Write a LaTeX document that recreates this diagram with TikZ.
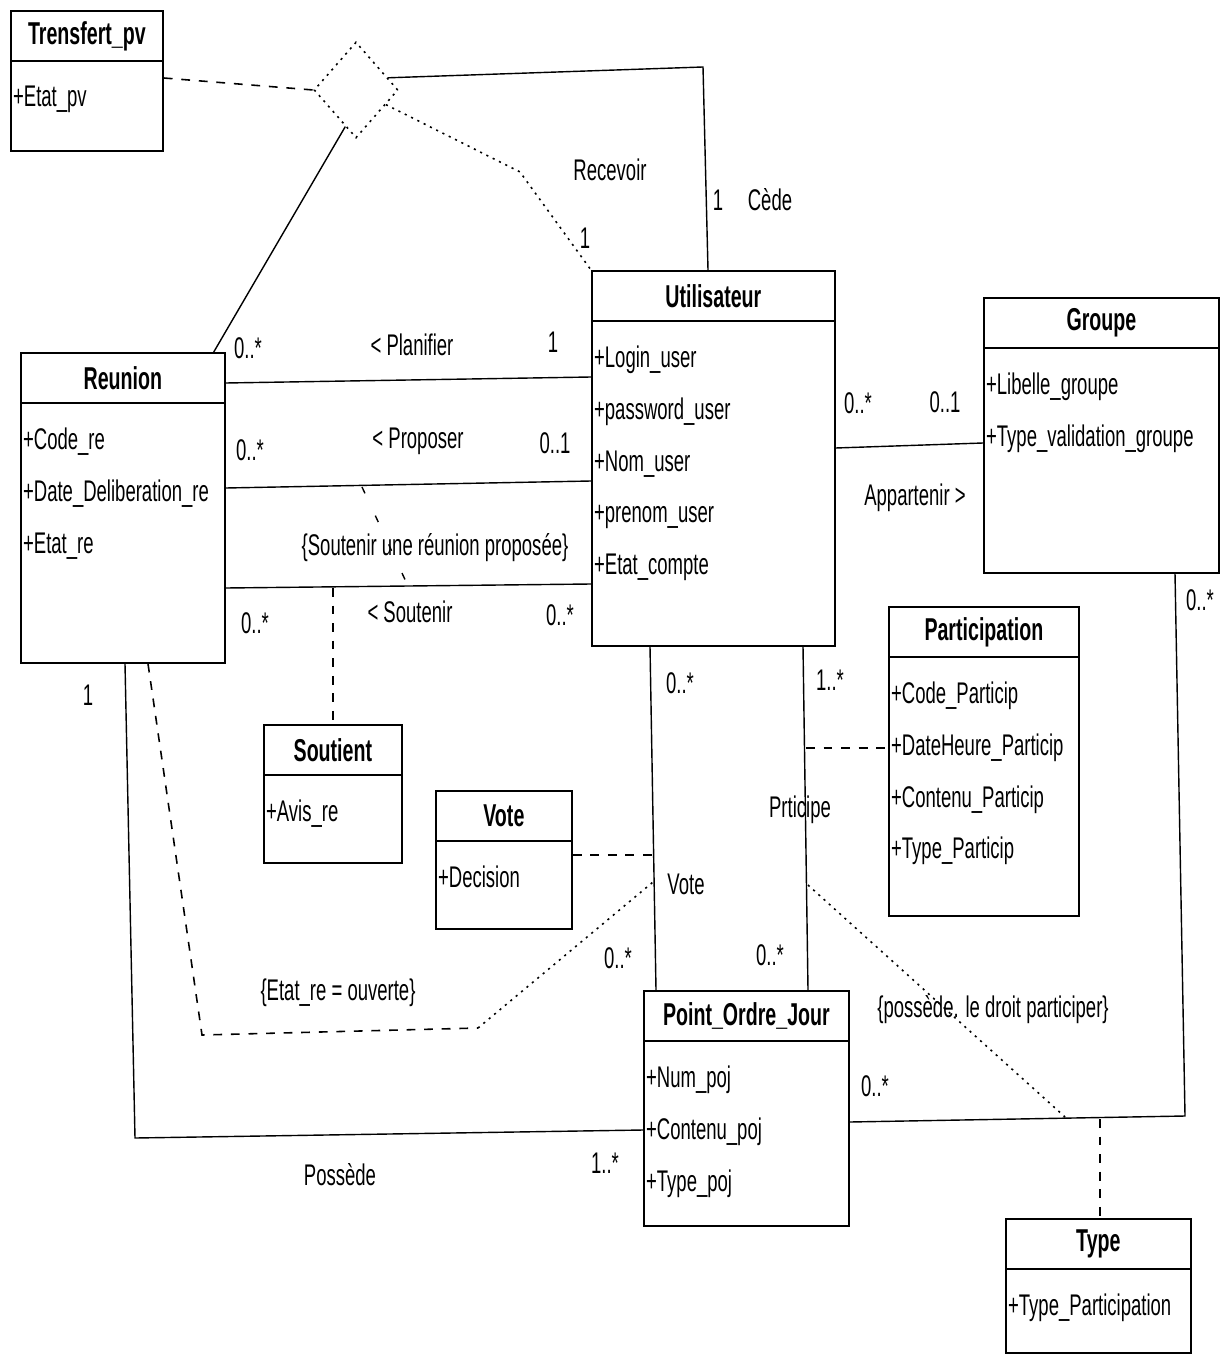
\documentclass[tikz,border=0pt]{standalone}
\usepackage{fontspec}
\setmainfont{Liberation Sans}[FakeStretch=0.62]
\usetikzlibrary{calc}
\usetikzlibrary{shapes.geometric}

\tikzset{
  classbody/.style={draw, line width=1pt, rectangle, anchor=north west, inner sep=0pt},
  classtitle/.style={font=\fontsize{18}{20}\selectfont\bfseries, inner sep=0pt},
  classattr/.style={font=\fontsize{17}{29.4}\selectfont, align=left, anchor=north west, inner sep=1pt},
  lbl/.style={font=\fontsize{17}{20}\selectfont, inner sep=0pt},
  assoc/.style={line width=0.8pt},
  depline/.style={line width=0.9pt, dash pattern=on 5pt off 5pt},
  dotline/.style={line width=0.9pt, dash pattern=on 1.2pt off 2.8pt},
}

% class box: name, x, y, width, height, title, attributes (pixel units)
\newcommand{\umlclass}[7]{%
  \node[classbody, minimum width={#4*0.02cm}, minimum height={#5*0.02cm}] (#1) at (#2,#3) {};
  \node[classtitle] (#1-title) at ($(#1.north)+(0,26)$) {#6};
  \draw[line width=1pt] ($(#1.north west)+(0,51)$) -- ($(#1.north east)+(0,51)$);
  \node[classattr] (#1-attr) at ($(#1.north west)+(1,74)$) {#7};
}

\begin{document}
\begin{tikzpicture}[x=0.02cm, y=-0.02cm]
\useasboundingbox (0,0) rectangle (1221,1354);

%Classes:
\umlclass{transfert}{10}{10}{152}{140}{Trensfert\_pv}{+Etat\_pv}
\umlclass{reunion}{20}{352}{204}{310}{Reunion}{+Code\_re\\+Date\_Deliberation\_re\\+Etat\_re}
\umlclass{util}{591}{270}{243}{375}{Utilisateur}{+Login\_user\\+password\_user\\+Nom\_user\\+prenom\_user\\+Etat\_compte}
\umlclass{groupe}{983}{297}{235}{275}{Groupe}{+Libelle\_groupe\\+Type\_validation\_groupe}
\umlclass{soutient}{263}{724}{138}{138}{Soutient}{+Avis\_re}
\umlclass{vote}{435}{790}{136}{138}{Vote}{+Decision}
\umlclass{particip}{888}{606}{190}{309}{Participation}{+Code\_Particip\\+DateHeure\_Particip\\+Contenu\_Particip\\+Type\_Particip}
\umlclass{poj}{643}{990}{205}{235}{Point\_Ordre\_Jour}{+Num\_poj\\+Contenu\_poj\\+Type\_poj}
\umlclass{type}{1005}{1218}{185}{134}{Type}{+Type\_Participation}

%Ternary association:
\node[draw, dotline, diamond, minimum width=1.68cm, minimum height=1.92cm, inner sep=0pt] (ternary) at (356,90) {};
\draw[depline] (transfert.east |- 0,78) -- (ternary.west);
\draw[assoc] ($(ternary.north)!0.75!(ternary.east)$) -- (703,67) -- (util.north -| 708,0);
\draw[dotline] ($(ternary.east)!0.3!(ternary.south)$) -- (520,172) -- (util.north west);
\draw[assoc] ($(ternary.south)!0.25!(ternary.west)$) -- ($(reunion.north east)+(-12,0)$);
\node[lbl] (recevoir) at (610,170) {Recevoir};
\node[lbl] (m-recevoir) at (585,238) {1};
\node[lbl] (m-cede) at (718,200) {1};
\node[lbl] (cede) at (770,200) {Cède};

%Reunion -- Utilisateur:
\draw[assoc] (reunion.east |- 0,383) -- (util.west |- 0,377);
\draw[assoc] (reunion.east |- 0,488) -- (util.west |- 0,481);
\draw[assoc] (reunion.east |- 0,588) -- (util.west |- 0,584);
\node[lbl] (m-plan-r) at (248,348) {0..*};
\node[lbl] (planifier) at (412,345) {< Planifier};
\node[lbl] (m-plan-u) at (553,342) {1};
\node[lbl] (m-prop-r) at (250,450) {0..*};
\node[lbl] (proposer) at (418,441) {< Proposer};
\node[lbl] (m-prop-u) at (555,443) {0..1};
\node[lbl] (m-sout-r) at (255,623) {0..*};
\node[lbl] (soutenir) at (410,612) {< Soutenir};
\node[lbl] (m-sout-u) at (560,615) {0..*};
\node[lbl] (c-soutenir) at (435,548) {\{Soutenir une réunion proposée\}};
\draw[line width=0.8pt, dash pattern=on 4pt off 14pt] (362,487) -- (408,586);
\draw[depline] (soutient.north |- 0,588) -- (soutient.north);

%Vote and Participe:
\coordinate (votemid) at (653,855);
\coordinate (partmid) at (806,748);
\draw[assoc] (util.south -| 650,0) -- (poj.north -| 656,0);
\draw[assoc] (util.south -| 803,0) -- (poj.north -| 808,0);
\draw[depline] (vote.east |- votemid) -- (votemid);
\draw[depline] (partmid) -- (particip.west |- partmid);
\node[lbl] (m-vote-u) at (680,683) {0..*};
\node[lbl] (vote-lbl) at (686,884) {Vote};
\node[lbl] (m-vote-p) at (618,958) {0..*};
\node[lbl] (m-part-u) at (830,680) {1..*};
\node[lbl] (part-lbl) at (800,810) {Prticipe};
\node[lbl] (m-part-p) at (770,955) {0..*};

%Groupe:
\draw[assoc] (util.east |- 0,448) -- (groupe.west |- 0,443);
\node[lbl] (m-app-u) at (858,403) {0..*};
\node[lbl] (m-app-g) at (945,402) {0..1};
\node[lbl] (appartenir) at (915,498) {Appartenir >};
\coordinate (gcorner) at (1185,1116);
\draw[assoc] (groupe.south -| 1175,0) -- (gcorner) -- (poj.east |- 0,1122);
\node[lbl] (m-grp-g) at (1200,600) {0..*};
\node[lbl] (m-grp-p) at (875,1086) {0..*};
\draw[dotline] (808,885) -- (1065,1117);
\node[lbl] (c-possede) at (993,1010) {\{possède. le droit participer\}};
\draw[depline] (1100,1119) -- (type.north -| 1100,0);

%Possede:
\draw[assoc] (reunion.south -| 125,0) -- (135,1138) -- (poj.west |- 0,1130);
\node[lbl] (m-poss-r) at (88,695) {1};
\node[lbl] (possede) at (340,1175) {Possède};
\node[lbl] (m-poss-p) at (605,1163) {1..*};
\draw[depline] (reunion.south -| 148,0) -- (202,1035) -- (478,1028);
\draw[dotline] (478,1028) -- (votemid |- 0,882);
\node[lbl] (c-etat) at (338,993) {\{Etat\_re = ouverte\}};

\end{tikzpicture}
\end{document}
